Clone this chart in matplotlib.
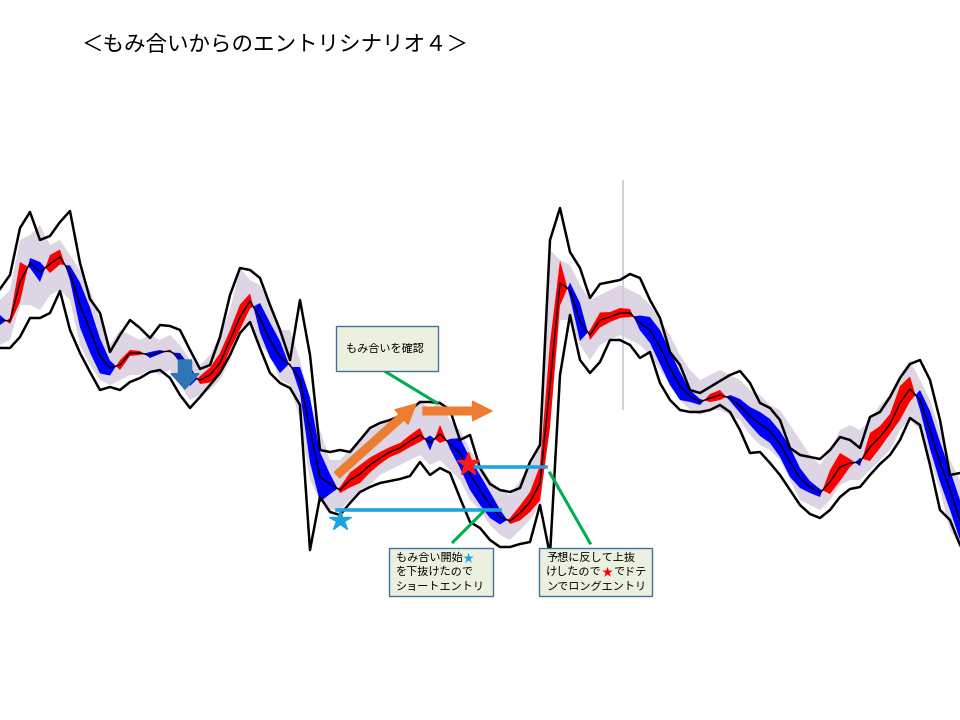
import numpy as np
import matplotlib
matplotlib.use("Agg")
import matplotlib.pyplot as plt
from matplotlib.patches import Rectangle, FancyArrowPatch

plt.rcParams['font.family'] = ['Noto Sans CJK JP', 'DejaVu Sans']

title = "＜もみ合いからのエントリシナリオ４＞"

# ---- data (price units, one value per bar) ----
upper_band = [311, 325, 372, 388, 360, 364, 378, 389, 337, 301,
              287, 248, 265, 280, 272, 262, 275, 274, 270, 250,
              231, 235, 263, 305, 332, 330, 322, 295, 270, 240,
              300, 245, 150, 148, 150, 148, 160, 172, 177, 180,
              184, 190, 198, 198, 197, 190, 160, 165, 132, 116,
              110, 108, 112, 138, 155, 360, 392, 348, 332, 302,
              316, 318, 320, 326, 322, 300, 282, 248, 235, 210,
              207, 213, 219, 225, 229, 217, 197, 192, 180, 152,
              145, 143, 141, 150, 163, 160, 152, 183, 188, 203,
              222, 236, 240, 220, 180, 125, 127]

lower_band = [252, 252, 263, 282, 282, 287, 309, 270, 247, 228,
              210, 213, 210, 218, 222, 228, 230, 222, 205, 192,
              203, 215, 227, 245, 267, 278, 252, 227, 217, 212,
              195, 50, 103, 88, 85, 97, 108, 113, 117, 119,
              121, 124, 138, 125, 132, 127, 102, 78, 72, 60,
              53, 53, 56, 58, 95, 45, 225, 285, 240, 227,
              238, 260, 260, 255, 242, 248, 217, 200, 190, 188,
              188, 190, 195, 188, 170, 147, 148, 137, 125, 110,
              95, 86, 82, 90, 103, 111, 113, 125, 136, 145,
              160, 182, 175, 135, 90, 80, 55]

ma_line = [280, 279, 318, 337, 328, 336, 343, 327, 295, 270,
           244, 232, 235, 247, 247, 245, 248, 249, 242, 224,
           220, 225, 237, 260, 283, 299, 282, 260, 243, 235,
           220, 170, 123, 116, 110, 120, 126, 135, 142, 148,
           152, 159, 165, 157, 166, 156, 147, 126, 110, 95,
           83, 79, 87, 98, 117, 215, 317, 310, 278, 265,
           280, 283, 287, 287, 277, 270, 253, 232, 214, 204,
           198, 202, 205, 202, 194, 184, 176, 169, 156, 138,
           122, 113, 107, 118, 133, 137, 138, 153, 163, 176,
           197, 211, 200, 170, 138, 110, 80]

# fast MA minus slow MA (positive = up-trend ribbon)
ribbon_spread = [-10, 6, 40, -10, -20, 18, 15, -15, -45, -45,
                 -35, -15, 10, 6, 4, -6, -4, 3, -10, -20,
                 8, 15, 20, 20, 25, 15, -30, -35, -32, 4,
                 -26, -65, -50, -20, 6, 15, 18, 15, 12, 10,
                 10, 12, 14, -15, 18, -10, -30, -32, -30, -26,
                 -15, 6, 15, 20, 35, 85, 45, -15, -38, 10,
                 15, 10, 10, 8, -15, -26, -34, -34, -28, -12,
                 -6, 8, 10, -6, -14, -18, -24, -24, -26, -30,
                 -20, -12, -8, 24, 28, 8, -8, 28, 22, 20,
                 34, 25, -20, -38, -40, -40, -40]

price_high = [300, 310, 360, 365, 375, 355, 360, 345, 330, 310,
              280, 255, 270, 265, 260, 265, 260, 265, 255, 240,
              235, 245, 265, 290, 332, 320, 315, 295, 270, 270,
              240, 200, 170, 140, 140, 150, 160, 170, 175, 180,
              185, 190, 200, 190, 200, 180, 170, 150, 135, 120,
              110, 105, 120, 135, 160, 350, 340, 335, 315, 300,
              305, 310, 315, 310, 305, 295, 280, 265, 245, 230,
              220, 225, 230, 225, 220, 210, 205, 195, 190, 175,
              160, 145, 135, 150, 170, 175, 170, 180, 195, 205,
              225, 240, 220, 200, 170, 140, 120]

price_low = [255, 260, 295, 295, 290, 305, 310, 300, 255, 235,
             220, 215, 220, 225, 225, 230, 225, 230, 215, 200,
             205, 210, 220, 240, 270, 280, 255, 245, 220, 215,
             180, 120, 100, 90, 90, 100, 110, 115, 125, 130,
             135, 140, 145, 135, 140, 130, 120, 100, 90, 75,
             65, 60, 70, 80, 95, 180, 280, 280, 255, 240,
             255, 260, 265, 260, 255, 245, 230, 215, 200, 190,
             185, 190, 190, 185, 180, 165, 155, 150, 140, 120,
             100, 95, 90, 100, 115, 120, 120, 130, 140, 150,
             170, 180, 170, 140, 110, 70, 55]

spike_bar = [62.3]
spike_high = [420]
spike_low = [190]

# ---- figure ----
fig = plt.figure(figsize=(9.6, 7.2), dpi=100)
ax = fig.add_axes([0, 0, 1, 1])
ax.set_xlim(0, 96)
ax.set_ylim(-120, 600)
ax.axis('off')

x = np.arange(len(ma_line))
ma = np.array(ma_line, float)
spread = np.array(ribbon_spread, float)
fast = ma + spread / 2
slow = ma - spread / 2

# price (gray)
ax.fill_between(x, price_low, price_high, color='#ddd5e3', lw=0, zorder=1)
ax.vlines(spike_bar, spike_low, spike_high, color='#d2c8da', lw=1.3, zorder=1.5)

# ribbon
ax.fill_between(x, fast, slow, where=fast >= slow, interpolate=True,
                color='#ff0000', lw=0, zorder=2)
ax.fill_between(x, fast, slow, where=fast < slow, interpolate=True,
                color='#0000ff', lw=0, zorder=2)

# bands and MA
ax.plot(x, upper_band, color='black', lw=1.8, zorder=3)
ax.plot(x, lower_band, color='black', lw=1.8, zorder=3)
ax.plot(x, ma, color='black', lw=1.0, zorder=3)

# ---- annotations ----
ax.text(8.2, 555, title, fontsize=15.5, ha='left', va='center', color='black')

# steel-blue down arrow
ax.add_patch(FancyArrowPatch((18.5, 240), (18.5, 211),
             arrowstyle='simple,head_width=2.0,head_length=1.1,tail_width=0.95',
             mutation_scale=10, color='#2e75b6', shrinkA=0, shrinkB=0, zorder=6))

# orange arrows
ax.add_patch(FancyArrowPatch((33.7, 125), (41.6, 196),
             arrowstyle='simple,head_width=1.4,head_length=1.4,tail_width=0.55',
             mutation_scale=10, color='#ed7d31', shrinkA=0, shrinkB=0, zorder=6))
ax.add_patch(FancyArrowPatch((42.3, 189), (49.2, 189),
             arrowstyle='simple,head_width=1.4,head_length=1.4,tail_width=0.55',
             mutation_scale=10, color='#ed7d31', shrinkA=0, shrinkB=0, zorder=6))

# light-blue horizontal lines
ax.plot([33.7, 50.0], [90, 90], color='#1fa3de', lw=2.6, zorder=5)
ax.plot([47.5, 54.6], [133, 133], color='#1fa3de', lw=2.6, zorder=5)

# stars
ax.plot([34.0], [80], marker='*', color='#1fa3de', markersize=16, mec='#1fa3de', zorder=7)
ax.plot([46.8], [136], marker='*', color='#ff1a1a', markersize=17, mec='#ff1a1a', zorder=7)

# green pointer lines
gcol = '#00b050'
ax.plot([38.6, 43.7], [228, 197], color=gcol, lw=2.2, zorder=5)
ax.plot([45.3, 48.3], [58, 88], color=gcol, lw=2.2, zorder=5)
ax.plot([55.0, 59.0], [127, 57], color=gcol, lw=2.2, zorder=5)

# text boxes
box_face = '#ebf1de'
box_edge = '#41719c'
for (x0, x1, y0, y1) in [(33.6, 43.8, 229, 274), (38.9, 49.3, 4, 52), (53.9, 65.2, 4, 52)]:
    ax.add_patch(Rectangle((x0, y0), x1 - x0, y1 - y0, facecolor=box_face,
                           edgecolor=box_edge, lw=1.0, zorder=8))

fs = 8
ax.text(34.6, 251, "もみ合いを確認", fontsize=fs, va='center', ha='left', zorder=9)

t1 = ax.text(39.6, 42, "もみ合い開始", fontsize=fs, va='center', ha='left', zorder=9)
ax.annotate("★", xy=(1, 0.5), xycoords=t1, va='center', ha='left',
            fontsize=fs, color='#1fa3de', zorder=9)
ax.text(39.6, 28, "を下抜けたので", fontsize=fs, va='center', ha='left', zorder=9)
ax.text(39.6, 13, "ショートエントリ", fontsize=fs, va='center', ha='left', zorder=9)

ax.text(54.6, 42, "予想に反して上抜", fontsize=fs, va='center', ha='left', zorder=9)
t2 = ax.text(54.6, 28, "けしたので", fontsize=fs, va='center', ha='left', zorder=9)
s2 = ax.annotate("★", xy=(1, 0.5), xycoords=t2, va='center', ha='left',
                 fontsize=fs, color='#ff0000', zorder=9)
ax.annotate("でドテ", xy=(1, 0.5), xycoords=s2, va='center', ha='left',
            fontsize=fs, zorder=9)
ax.text(54.6, 13, "ンでロングエントリ", fontsize=fs, va='center', ha='left', zorder=9)

fig.savefig('out.png', dpi=100)
